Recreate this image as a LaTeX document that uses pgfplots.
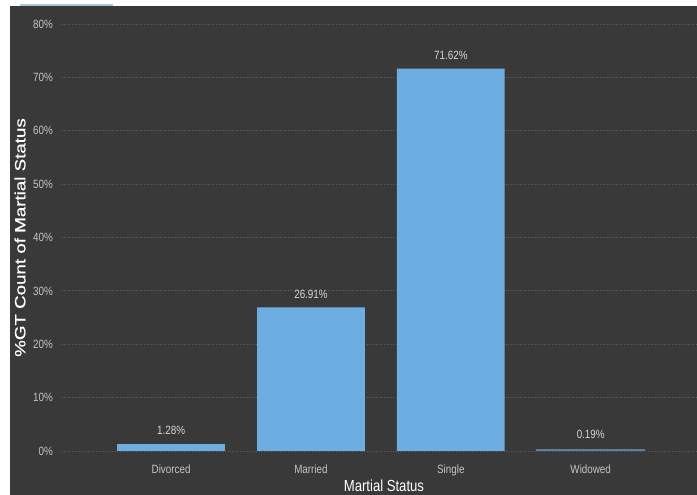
\documentclass[border=0pt]{standalone}
\usepackage{fontspec}
\usepackage{pgfplots}
\pgfplotsset{compat=1.18}
\setmainfont{Liberation Sans}
\newfontfamily\narrow[FakeStretch=0.82]{Liberation Sans}
\newfontfamily\wide[FakeStretch=1.25,FakeBold=0.6]{Liberation Sans}
\definecolor{bg}{HTML}{393939}
\definecolor{barblue}{HTML}{6CAEE2}
\definecolor{widblue}{HTML}{5F8098}
\definecolor{gridc}{HTML}{5E5E5E}
\definecolor{tickc}{HTML}{C4C4C4}
\definecolor{valc}{HTML}{D6D6D6}
\begin{document}
\begin{tikzpicture}[x=1pt,y=1pt]
\useasboundingbox (0,0) rectangle (697,495);
\fill[white] (0,0) rectangle (697,495);
\fill[bg] (10,0) rectangle (697,489);
\draw[color={rgb,255:red,168;green,200;blue,216}, line width=1.2pt] (20,490) -- (113,490);
\begin{axis}[
  at={(62pt,44pt)}, anchor=south west,
  scale only axis, width=635pt, height=427pt,
  xmin=-0.78, xmax=3.76, ymin=0, ymax=80,
  ybar, bar shift=0pt, bar width=0.77,
  axis line style={draw=none}, tick style={draw=none},
  ytick={0,10,...,80},
  ymajorgrids, grid style={gridc, dotted, line width=0.8pt},
  xtick={0,1,2,3},
  xticklabels={Divorced,Married,Single,Widowed},
  /pgf/number format/assume math mode=true,
  yticklabel={\pgfmathprintnumber{\tick}\%},
  yticklabel style={font=\narrow\fontsize{12}{14}\selectfont, color=tickc, anchor=east, inner sep=0pt, xshift=-9pt},
  xticklabel style={font=\narrow\fontsize{12}{14}\selectfont, color=tickc, anchor=north, inner sep=0pt, yshift=-9pt},
  xlabel={Martial Status},
  xlabel style={font=\narrow\fontsize{16}{18}\selectfont, color=white, at={(axis description cs:0.507,0)}, anchor=north, inner sep=0pt, yshift=-29pt},
  ylabel={\%GT Count of Martial Status},
  ylabel style={font=\wide\fontsize{15}{17}\selectfont, color=white, at={(axis description cs:-0.0661,0.5)}, anchor=center, inner sep=0pt},
  nodes near coords={\pgfmathprintnumber[fixed,fixed zerofill,precision=2]{\pgfplotspointmeta}\%},
  nodes near coords style={font=\narrow\fontsize{12}{14}\selectfont, color=valc, anchor=south, inner sep=0pt, yshift=9pt},
]
\addplot[fill=barblue, draw=none] coordinates {(0,1.28) (1,26.91) (2,71.62)};
\addplot[fill=widblue, draw=widblue, line width=1.2pt, nodes near coords style={yshift=2pt}] coordinates {(3,0.19)};
\end{axis}
\end{tikzpicture}
\end{document}
